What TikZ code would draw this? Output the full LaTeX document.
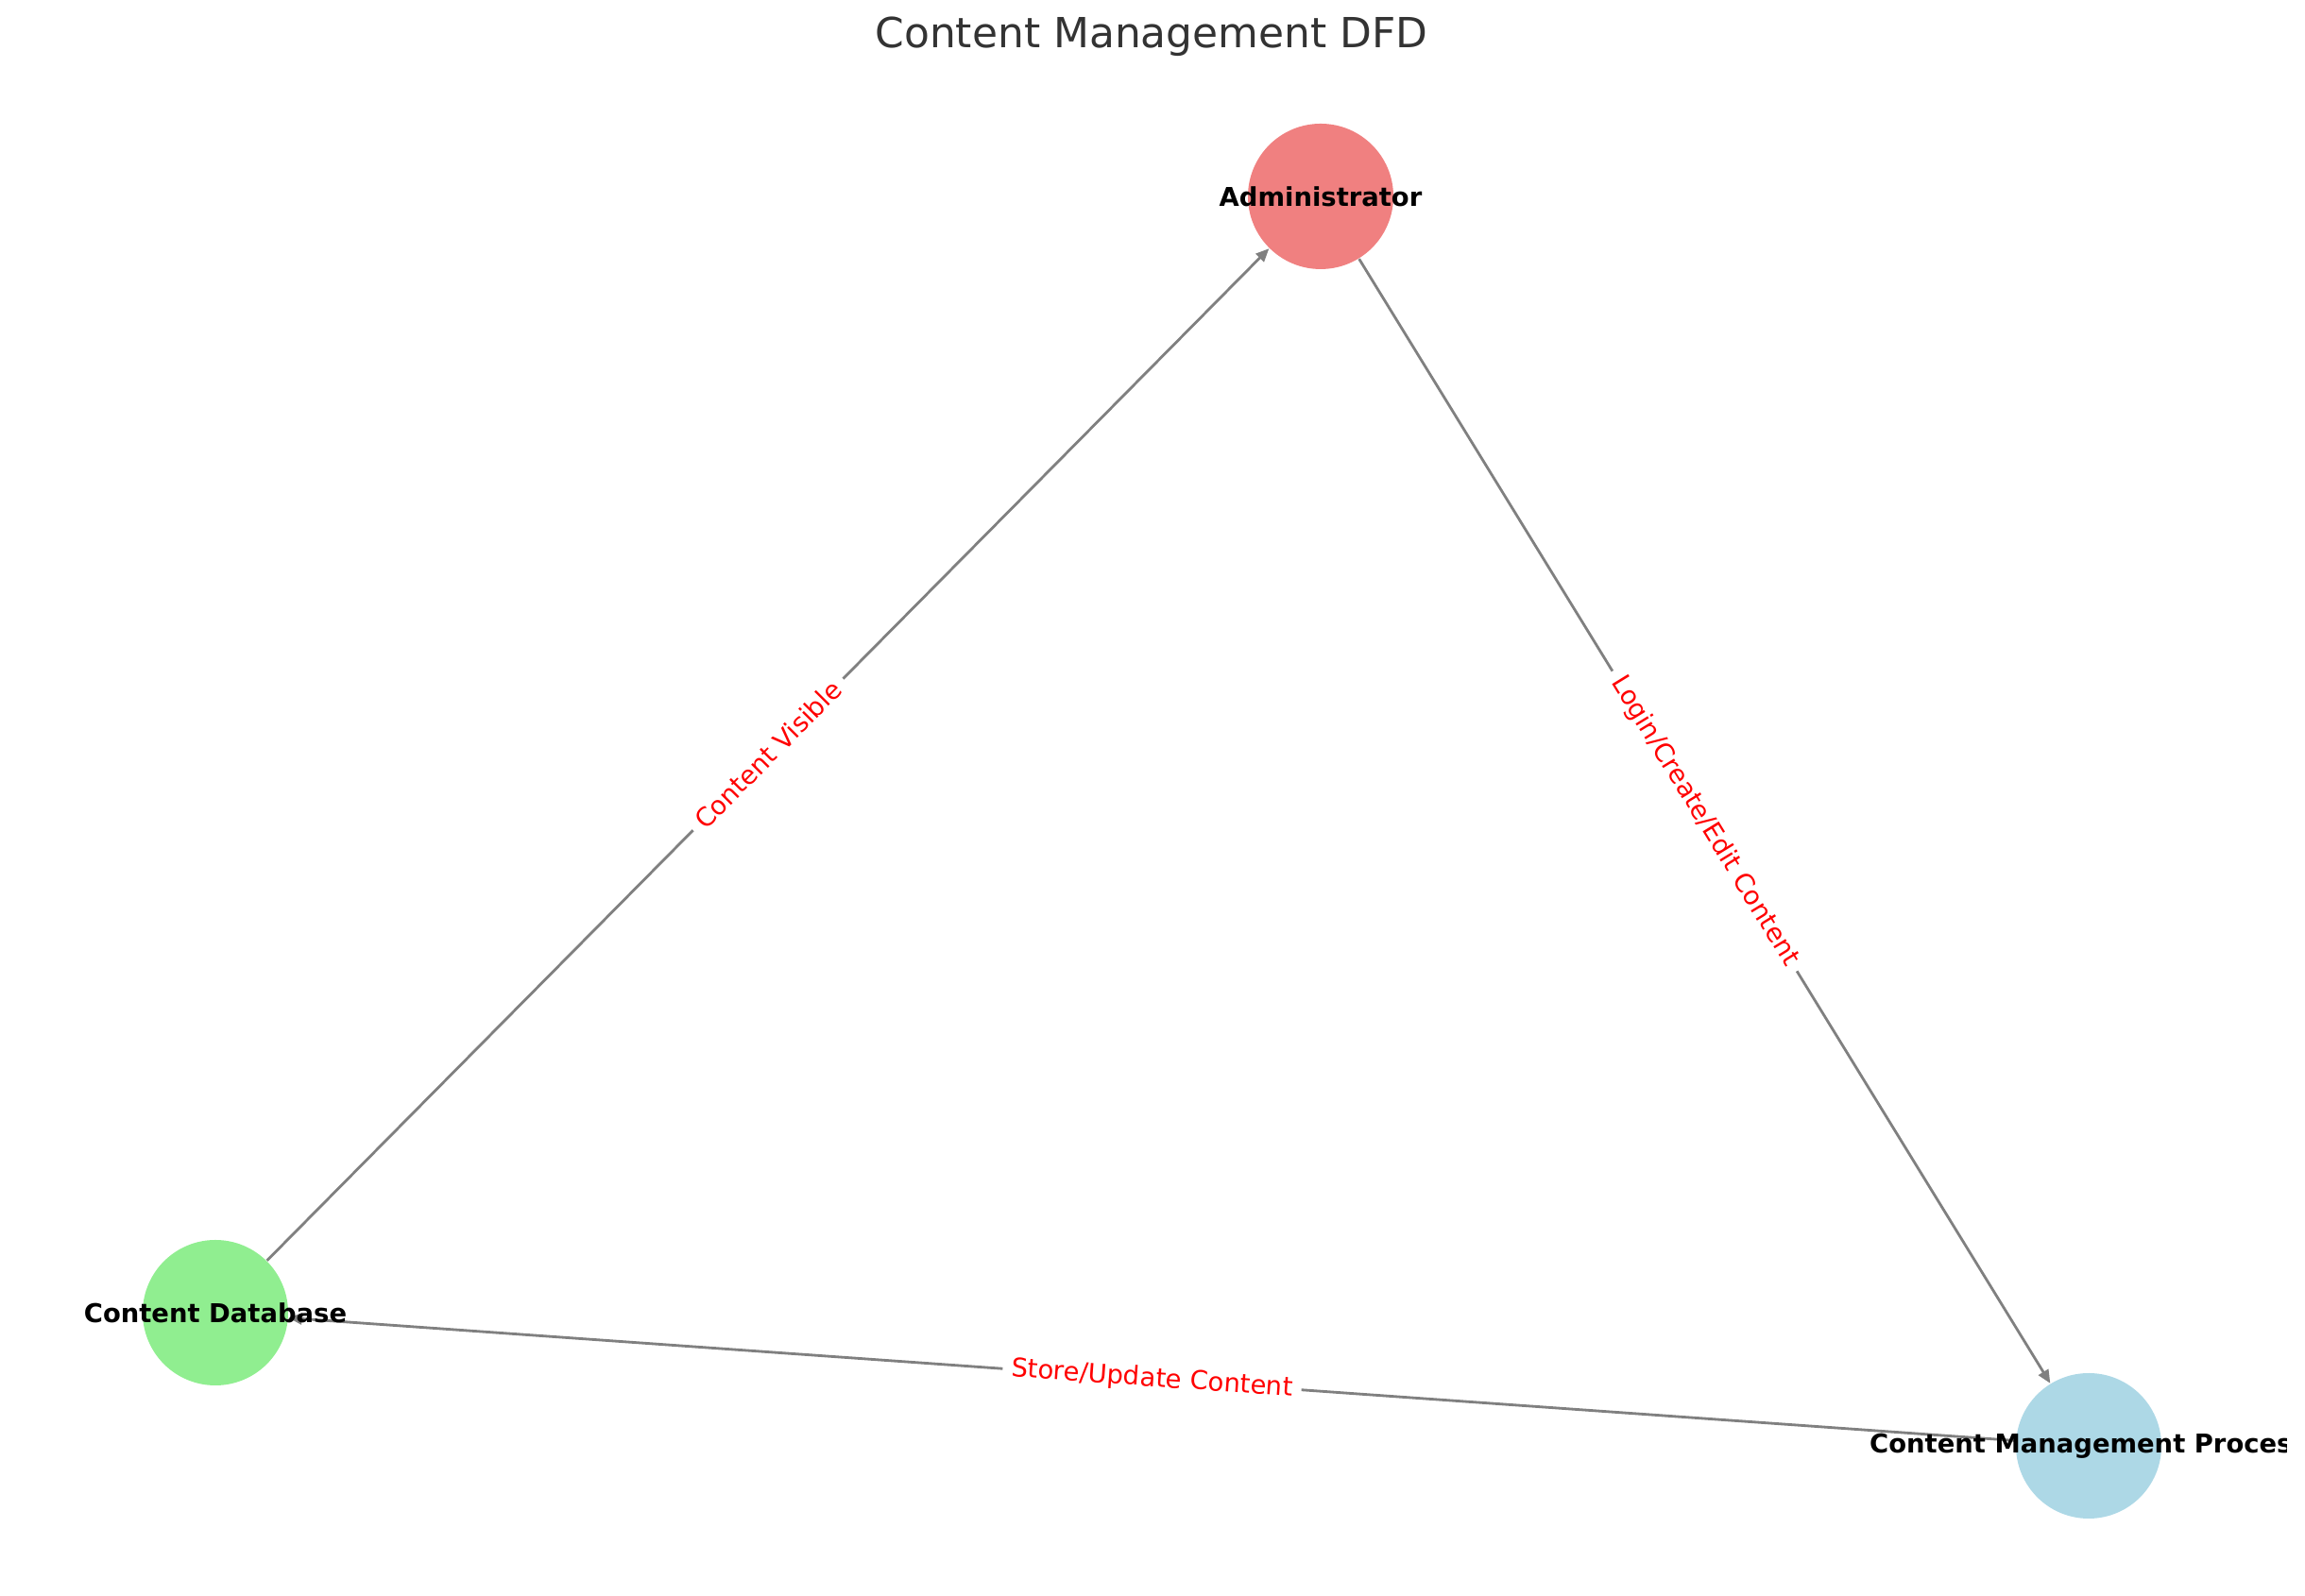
\documentclass[tikz,border=0pt]{standalone}
\usepackage{fontspec}
\setmainfont{DejaVu Sans}
\usetikzlibrary{arrows.meta}
\definecolor{admincoral}{RGB}{240, 128, 128}
\definecolor{processblue}{RGB}{173, 216, 230}
\definecolor{dbgreen}{RGB}{144, 238, 144}
\definecolor{flowgray}{RGB}{128, 128, 128}
\definecolor{titlegray}{RGB}{51, 51, 51}

\begin{document}
\begin{tikzpicture}[
  entity/.style={circle, minimum size=1.54cm, inner sep=0pt},
  flow/.style={draw=flowgray, line width=0.8pt, -{Triangle[length=4pt,width=3.4pt]}},
  flowlabel/.style={sloped, fill=white, text=red, rounded corners=2pt, inner sep=2.6pt,
    font=\fontsize{7.8}{9}\selectfont},
  entitytext/.style={font=\fontsize{7.8}{9}\selectfont\bfseries}
]
\useasboundingbox (0,0) rectangle (24.4,16.9);
\clip (0,0) rectangle (24.2,16.9);

% Title
\node[text=titlegray, font=\fontsize{12.5}{15}\selectfont] (title) at (12.19,16.51) {Content Management DFD};

% Entities
\node[entity, fill=admincoral] (admin) at (13.98,14.82) {};
\node[entity, fill=dbgreen] (db) at (2.28,3.00) {};
\node[entity, fill=processblue] (cmp) at (22.11,1.59) {};

% Data flows
\draw[flow] (admin) -- (cmp) node[flowlabel, midway] (l1) {Login/Create/Edit Content};
\draw[flow] (cmp) -- (db) node[flowlabel, midway] (l2) {Store/Update Content};
\draw[flow] (db) -- (admin) node[flowlabel, midway] (l3) {Content Visible};

% Entity names
\node[entitytext] (admintext) at (admin) {Administrator};
\node[entitytext] (dbtext) at (db) {Content Database};
\node[entitytext] (cmptext) at (cmp) {Content Management Process};
\end{tikzpicture}
\end{document}
